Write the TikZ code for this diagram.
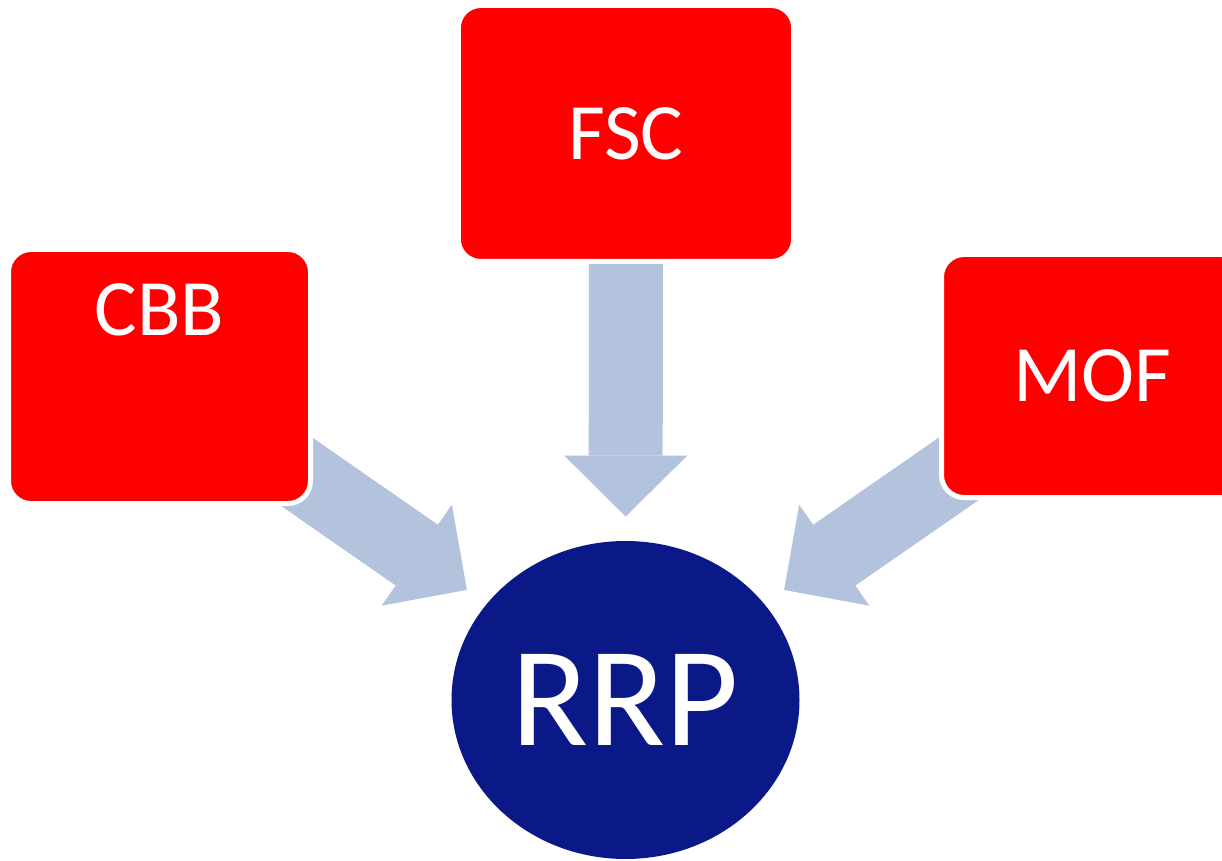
\documentclass[tikz,border=0pt]{standalone}
\usepackage{fontspec}
\setmainfont{Carlito}
\usetikzlibrary{arrows.meta, shapes.geometric, positioning, calc, backgrounds}
\definecolor{boxred}{HTML}{FF0000}
\definecolor{arrowblue}{HTML}{B3C3DE}
\definecolor{rrpnavy}{HTML}{0A1888}

\begin{document}
\begin{tikzpicture}[x=0.5pt, y=-0.5pt,
    redbox/.style={draw=white, line width=2.5pt, fill=boxred, rounded corners=11.25pt,
      minimum width=151pt, minimum height=127pt, inner sep=0pt,
      text=white, font=\fontsize{40}{48}\selectfont},
    bigarrow/.style={arrowblue, line width=37pt,
      -{Triangle[length=30.5pt, width=61.5pt, line width=0pt]}, shorten >=12pt}]
  \useasboundingbox (0,0) rectangle (1222,861);
  % boxes and the circle
  \node[redbox, minimum width=167.7pt, minimum height=128pt] (fsc) at (626,133.5) {FSC};
  \node[redbox] (cbb) at (159.5,376.5) {};
  \node[text=white, font=\fontsize{40}{48}\selectfont] (cbbtext) at ($(cbb.north)+(0,63)$) {CBB};
  \node[redbox, minimum height=121.5pt] (mof) at (1092.5,376) {MOF};
  \node[ellipse, fill=rrpnavy, minimum width=174pt, minimum height=159pt, inner sep=0pt,
    text=white, font=\fontsize{71}{80}\selectfont] (rrp) at (625.5,700) {RRP};
  % block arrows behind the boxes
  \begin{scope}[on background layer]
    \draw[bigarrow] (fsc.center) -- (rrp);
    \draw[bigarrow] (cbb.center) -- (rrp);
    \draw[bigarrow] (mof.center) -- (rrp);
  \end{scope}
\end{tikzpicture}
\end{document}
